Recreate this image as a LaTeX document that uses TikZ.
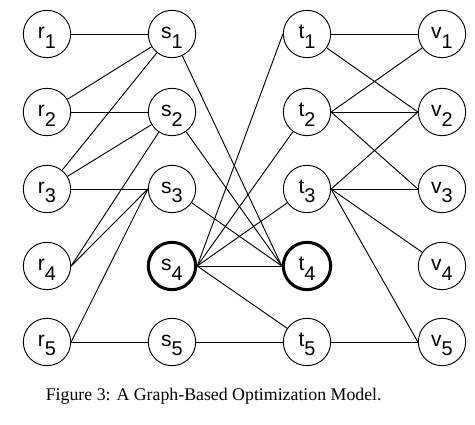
\documentclass[tikz,border=0pt]{standalone}
\usepackage{fontspec}
\setmainfont{Liberation Serif}
\newfontfamily\labfont{Liberation Sans}
\usepackage{tikz}
\usetikzlibrary{positioning}

% label with a lowered index, as in the figure
\newcommand{\nlab}[2]{\rule{0pt}{16pt}#1\raisebox{-8pt}{\fontsize{17pt}{17pt}\selectfont #2}}

\begin{document}
\begin{tikzpicture}[
    vert/.style={circle, draw=black, line width=0.8pt, minimum size=1.42cm, inner sep=0pt, font=\labfont\fontsize{18pt}{18pt}\selectfont},
    chosen/.style={vert, line width=2.6pt},
    link/.style={draw=black, line width=0.8pt}
]
    \useasboundingbox (0,0) rectangle (14.25,-12.75);

    % column r
    \node[vert] (r1) at (1.41,-1.02) {\nlab{r}{1}};
    \node[vert] (r2) at (1.41,-3.36) {\nlab{r}{2}};
    \node[vert] (r3) at (1.41,-5.67) {\nlab{r}{3}};
    \node[vert] (r4) at (1.41,-7.98) {\nlab{r}{4}};
    \node[vert] (r5) at (1.41,-10.26) {\nlab{r}{5}};

    % column s
    \node[vert] (s1) at (5.16,-1.02) {\nlab{s}{1}};
    \node[vert] (s2) at (5.16,-3.36) {\nlab{s}{2}};
    \node[vert] (s3) at (5.16,-5.67) {\nlab{s}{3}};
    \node[chosen] (s4) at (5.16,-7.98) {\nlab{s}{4}};
    \node[vert] (s5) at (5.16,-10.26) {\nlab{s}{5}};

    % column t
    \node[vert] (t1) at (9.21,-1.02) {\nlab{t}{1}};
    \node[vert] (t2) at (9.21,-3.36) {\nlab{t}{2}};
    \node[vert] (t3) at (9.21,-5.67) {\nlab{t}{3}};
    \node[chosen] (t4) at (9.21,-7.98) {\nlab{t}{4}};
    \node[vert] (t5) at (9.21,-10.26) {\nlab{t}{5}};

    % column v
    \node[vert] (v1) at (13.26,-1.02) {\nlab{v}{1}};
    \node[vert] (v2) at (13.26,-3.36) {\nlab{v}{2}};
    \node[vert] (v3) at (13.26,-5.67) {\nlab{v}{3}};
    \node[vert] (v4) at (13.26,-7.98) {\nlab{v}{4}};
    \node[vert] (v5) at (13.26,-10.26) {\nlab{v}{5}};

    % r -- s
    \draw[link] (r1) -- (s1);
    \draw[link] (r2) -- (s1);
    \draw[link] (r2) -- (s2);
    \draw[link] (r3) -- (s1);
    \draw[link] (r3) -- (s2);
    \draw[link] (r3) -- (s3.west);
    \draw[link] (r4.east) -- (s2);
    \draw[link] (r4.east) -- (s3.west);
    \draw[link] (r5.east) -- (s3.west);
    \draw[link] (r5.east) -- (s5);

    % s -- t
    \draw[link] (s1) -- (t4.west);
    \draw[link] (s2) -- (t4.west);
    \draw[link] (s3) -- (t4.west);
    \draw[link] (s4.east) -- (t1.west);
    \draw[link] (s4.east) -- (t2);
    \draw[link] (s4.east) -- (t3);
    \draw[link] (s4.east) -- (t4.west);
    \draw[link] (s4.east) -- (t5);
    \draw[link] (s5) -- (t5);

    % t -- v
    \draw[link] (t1) -- (v1);
    \draw[link] (t1) -- (v2.west);
    \draw[link] (t2.east) -- (v1);
    \draw[link] (t2.east) -- (v2.west);
    \draw[link] (t2.east) -- (v3.west);
    \draw[link] (t3.east) -- (v2.west);
    \draw[link] (t3.east) -- (v3.west);
    \draw[link] (t3.east) -- (v4);
    \draw[link] (t3.east) -- (v5.west);
    \draw[link] (t5.east) -- (v5.west);

    \node[anchor=west, font=\fontsize{15.2pt}{18pt}\selectfont] (cap) at (1.25,-11.9) {Figure 3: A Graph-Based Optimization Model.};
\end{tikzpicture}
\end{document}
